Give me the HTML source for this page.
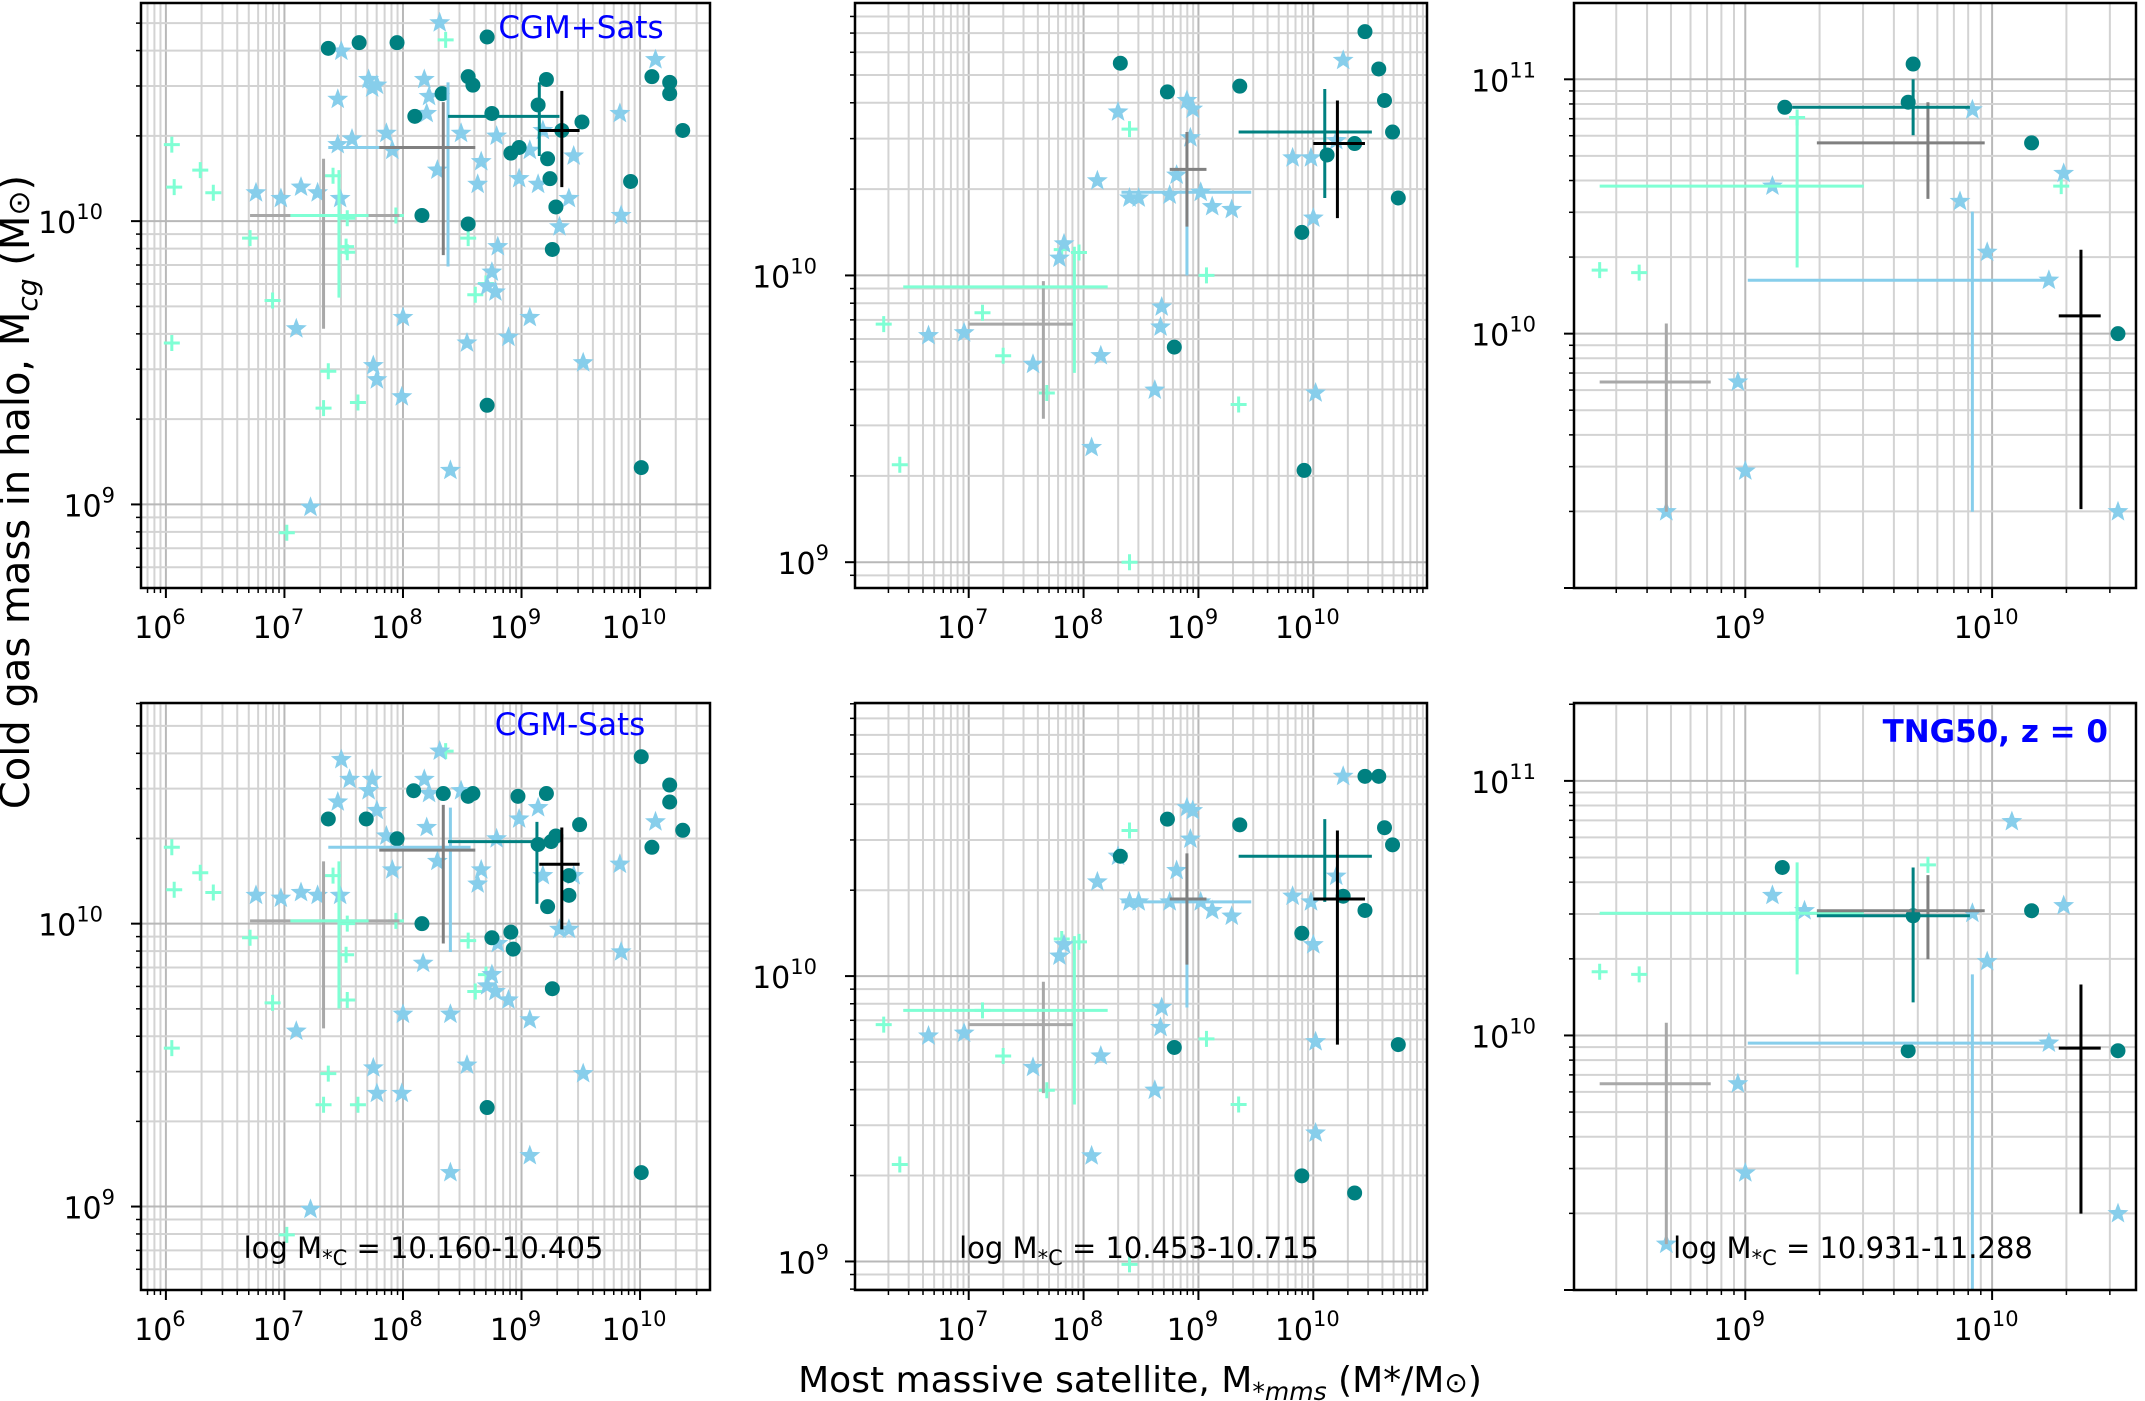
<!DOCTYPE html>
<html><head><meta charset="utf-8">
<style>
html,body{margin:0;padding:0;background:#fff;}
svg{display:block;font-family:"DejaVu Sans","Liberation Sans",sans-serif;}
</style></head>
<body>
<svg id="fig" width="2145" height="1401" viewBox="0 0 2145 1401" xmlns="http://www.w3.org/2000/svg">
<text transform="translate(29,492) rotate(-90)" text-anchor="middle" font-size="40">Cold gas mass in halo, M<tspan font-size="28" dy="8" font-style="italic">cg</tspan><tspan dy="-8"> (M</tspan><tspan font-size="30">⊙</tspan>)</text>
<text x="1140" y="1392" text-anchor="middle" font-size="36">Most massive satellite, M<tspan font-size="25" dy="8">*</tspan><tspan font-size="25" font-style="italic">mms</tspan><tspan dy="-8"> (M*/M</tspan><tspan font-size="28">⊙</tspan>)</text>
</svg>
<script>
// all values are log10 of masses
// panel 1 top (CGM+Sats)
const p1tCircles=[[7.37,10.61],[7.63,10.63],[7.95,10.63],[8.10,10.37],[8.33,10.45],[8.55,10.51],[8.59,10.48],[8.71,10.65],[8.75,10.38],[8.91,10.24],[8.98,10.26],[8.16,10.02],[8.55,9.99],[8.71,9.35],[9.14,10.41],[9.21,10.50],[9.24,10.15],[9.29,10.05],[9.22,10.22],[9.26,9.90],[9.34,10.32],[9.51,10.35],[9.92,10.14],[10.01,9.13],[10.10,10.51],[10.25,10.49],[10.25,10.45],[10.36,10.32]];
const p1tStars=[[6.76,10.10],[6.97,10.08],[7.14,10.12],[7.28,10.10],[7.47,10.08],[7.10,9.62],[7.22,8.99],[7.45,10.43],[7.48,10.60],[7.45,10.27],[7.57,10.29],[7.71,10.50],[7.74,10.47],[7.78,10.48],[7.86,10.31],[7.91,10.25],[7.75,9.49],[7.78,9.44],[7.99,9.38],[8.00,9.66],[8.18,10.50],[8.22,10.44],[8.31,10.70],[8.20,10.38],[8.29,10.18],[8.40,9.12],[8.49,10.31],[8.54,9.57],[8.63,10.13],[8.78,9.75],[8.66,10.21],[8.71,9.77],[8.79,10.30],[8.75,9.82],[8.80,9.91],[8.98,10.15],[8.89,9.59],[9.07,10.25],[9.07,9.66],[9.14,10.13],[9.18,10.32],[9.32,9.98],[9.40,10.08],[9.44,10.23],[9.52,9.50],[9.83,10.38],[9.84,10.02],[10.13,10.57]];
const p1tPlus=[[6.05,10.27],[6.07,10.12],[6.29,10.18],[6.40,10.10],[6.71,9.94],[6.90,9.72],[7.02,8.90],[7.33,9.34],[7.37,9.47],[7.41,10.16],[7.52,9.91],[7.53,10.01],[7.53,9.89],[7.62,9.36],[7.94,10.02],[8.36,10.64],[8.55,9.94],[8.61,9.74],[8.70,9.78],[6.05,9.57]];
// errorbars: [x, xlo, xhi, y, ylo, yhi]; order: gray, aquamarine, skyblue, darkgray, teal, black
const p1tErr=[[7.33,6.71,7.97,10.02,9.62,10.22],[7.46,7.05,7.71,10.02,9.73,10.18],[8.38,7.37,8.57,10.26,9.84,10.49],[8.34,7.80,8.61,10.26,9.88,10.42],[9.15,8.38,9.32,10.37,10.23,10.49],[9.34,9.15,9.49,10.32,10.12,10.46]];
// panel 1 bottom (CGM-Sats)
const p1bCircles=[[7.37,10.37],[7.69,10.37],[7.95,10.30],[8.09,10.47],[8.16,10.00],[8.34,10.46],[8.55,10.45],[8.59,10.46],[8.75,9.95],[8.91,9.97],[8.97,10.45],[8.71,9.35],[9.14,10.28],[9.21,10.46],[9.22,10.06],[9.25,10.29],[9.29,10.31],[9.40,10.17],[9.40,10.10],[9.49,10.35],[10.01,9.12],[10.01,10.59],[10.10,10.27],[10.25,10.49],[10.25,10.43],[10.36,10.33],[8.93,9.91],[9.26,9.77]];
const p1bStars=[[6.76,10.10],[6.97,10.09],[7.14,10.11],[7.28,10.10],[7.47,10.10],[7.10,9.62],[7.22,8.99],[7.45,10.43],[7.48,10.58],[7.55,10.51],[7.71,10.47],[7.74,10.51],[7.78,10.40],[7.86,10.31],[7.91,10.19],[7.75,9.49],[7.78,9.40],[7.99,9.40],[8.00,9.68],[8.18,10.51],[8.22,10.46],[8.31,10.61],[8.20,10.34],[8.29,10.22],[8.40,9.12],[8.49,10.47],[8.54,9.50],[8.63,10.14],[8.78,9.76],[8.66,10.19],[8.71,9.78],[8.79,10.30],[8.75,9.82],[8.80,9.93],[8.98,10.37],[8.89,9.73],[9.07,9.18],[9.07,9.66],[9.14,10.41],[9.18,10.17],[9.32,9.98],[9.40,9.98],[9.44,10.17],[9.52,9.47],[9.83,10.21],[9.84,9.90],[10.13,10.36],[8.40,9.68],[8.17,9.86]];
const p1bPlus=[[6.05,10.27],[6.07,10.12],[6.29,10.18],[6.40,10.11],[6.71,9.95],[6.90,9.72],[7.02,8.90],[7.33,9.36],[7.37,9.47],[7.41,10.17],[7.52,9.89],[7.53,10.00],[7.53,9.73],[7.62,9.36],[7.94,10.01],[8.36,10.61],[8.55,9.94],[8.61,9.76],[8.70,9.82],[6.05,9.56]];
const p1bErr=[[7.33,6.71,7.97,10.01,9.63,10.22],[7.46,7.05,7.71,10.01,9.70,10.22],[8.40,7.37,8.57,10.27,9.90,10.41],[8.34,7.80,8.61,10.26,9.93,10.42],[9.13,8.38,9.32,10.29,10.07,10.36],[9.34,9.15,9.49,10.21,9.98,10.34]];
// panel 2 top
const p2tCircles=[[8.32,10.74],[8.73,10.64],[9.36,10.66],[8.79,9.75],[9.90,10.15],[9.92,9.32],[10.12,10.42],[10.45,10.85],[10.57,10.72],[10.62,10.61],[10.69,10.50],[10.74,10.27],[10.36,10.46]];
const p2tStars=[[6.65,9.79],[6.96,9.80],[7.56,9.69],[7.79,10.06],[7.83,10.11],[8.15,9.72],[8.07,9.40],[8.12,10.33],[8.30,10.57],[8.40,10.27],[8.48,10.27],[8.62,9.60],[8.67,9.82],[8.68,9.89],[8.75,10.28],[8.81,10.35],[8.90,10.61],[8.95,10.58],[8.93,10.48],[9.02,10.29],[9.12,10.24],[9.29,10.23],[9.82,10.41],[9.98,10.41],[10.00,10.20],[10.02,9.59],[10.20,10.47],[10.26,10.75]];
const p2tPlus=[[6.26,9.83],[6.40,9.34],[7.12,9.87],[7.30,9.72],[7.68,9.59],[7.81,10.09],[7.96,10.08],[8.40,10.51],[8.40,9.00],[9.07,10.00],[9.35,9.55]];
const p2tErr=[[7.65,7.00,7.92,9.83,9.50,9.98],[7.92,6.43,8.21,9.96,9.66,10.10],[8.90,8.33,9.46,10.29,10.00,10.34],[8.90,8.75,9.07,10.37,10.17,10.50],[10.10,9.35,10.51,10.50,10.27,10.65],[10.21,10.00,10.45,10.46,10.20,10.61]];
// panel 2 bottom
const p2bCircles=[[8.32,10.42],[8.73,10.55],[9.36,10.53],[8.79,9.75],[9.90,10.15],[9.90,9.30],[10.26,10.28],[10.45,10.70],[10.57,10.70],[10.62,10.52],[10.69,10.46],[10.74,9.76],[10.45,10.23],[10.36,9.24]];
const p2bStars=[[6.65,9.79],[6.96,9.80],[7.56,9.68],[7.79,10.07],[7.83,10.11],[8.15,9.72],[8.07,9.37],[8.12,10.33],[8.30,10.42],[8.40,10.26],[8.48,10.26],[8.62,9.60],[8.67,9.82],[8.68,9.89],[8.75,10.26],[8.81,10.37],[8.90,10.59],[8.95,10.58],[8.93,10.48],[9.02,10.26],[9.12,10.23],[9.29,10.21],[9.82,10.28],[9.98,10.26],[10.00,10.11],[10.02,9.77],[10.20,10.35],[10.26,10.70],[10.02,9.45]];
const p2bPlus=[[6.26,9.83],[6.40,9.34],[7.12,9.88],[7.30,9.72],[7.68,9.60],[7.81,10.13],[7.96,10.12],[8.40,10.51],[8.40,8.99],[9.07,9.78],[9.35,9.55]];
const p2bErr=[[7.65,7.00,7.92,9.83,9.59,9.98],[7.92,6.43,8.21,9.88,9.55,10.14],[8.90,8.33,9.46,10.26,9.89,10.28],[8.90,8.75,9.07,10.27,10.04,10.43],[10.10,9.35,10.51,10.42,10.26,10.55],[10.21,10.00,10.45,10.27,9.76,10.51]];
// panel 3 top
const p3tCircles=[[9.16,10.89],[9.68,11.06],[9.66,10.91],[10.16,10.75],[10.51,10.00]];
const p3tStars=[[8.68,9.30],[8.97,9.81],[9.00,9.46],[9.11,10.58],[9.87,10.52],[9.92,10.88],[9.98,10.32],[10.23,10.21],[10.29,10.63],[10.51,9.30]];
const p3tPlus=[[8.41,10.25],[8.57,10.24],[9.21,10.85],[10.28,10.58]];
const p3tErr=[[8.68,8.41,8.86,9.81,9.30,10.04],[9.21,8.41,9.48,10.58,10.26,10.85],[9.92,9.01,10.23,10.21,9.30,10.48],[9.74,9.29,9.97,10.75,10.53,10.91],[9.68,9.19,9.91,10.89,10.78,11.00],[10.36,10.27,10.44,10.07,9.31,10.33]];
// panel 3 bottom
const p3bCircles=[[9.15,10.66],[9.68,10.47],[10.16,10.49],[9.66,9.94],[10.51,9.94]];
const p3bStars=[[8.68,9.18],[8.97,9.81],[9.00,9.46],[9.11,10.55],[9.92,10.48],[9.98,10.29],[10.08,10.84],[10.23,9.97],[10.29,10.51],[10.51,9.30],[9.24,10.49]];
const p3bPlus=[[8.41,10.25],[8.57,10.24],[9.21,10.48],[9.74,10.67]];
const p3bErr=[[8.68,8.41,8.86,9.81,9.18,10.05],[9.21,8.41,9.48,10.48,10.24,10.68],[9.92,9.01,10.23,9.97,9.00,10.24],[9.74,9.29,9.97,10.49,10.30,10.63],[9.68,9.29,9.91,10.47,10.13,10.66],[10.36,10.27,10.44,9.95,9.30,10.20]];
const xTicks1=[6,7,8,9,10], xTicks2=[7,8,9,10], xTicks3=[9,10];
const yTicks1=[9,10], yTicks2=[9,10], yTicks3=[10,11];
const annoTexts=["10.160-10.405","10.453-10.715","10.931-11.288"];

const errColors=['#a8a8a8','#7fffd4','#87ceeb','#808080','#008080','#000000'];
const NS='http://www.w3.org/2000/svg';
const svg=document.getElementById('fig');
function mk(tag,attrs,parent){const e=document.createElementNS(NS,tag);for(const k in attrs)e.setAttribute(k,attrs[k]);(parent||svg).appendChild(e);return e;}

const panels=[
 {n:'panel-1-top',x0:141,x1:710,y0:3,y1:588,xr:[5.79,10.59],yr:[8.705,10.77],xt:xTicks1,yt:yTicks1,c:p1tCircles,s:p1tStars,p:p1tPlus,e:p1tErr},
 {n:'panel-2-top',x0:855,x1:1427,y0:3,y1:588,xr:[6.01,10.99],yr:[8.91,10.95],xt:xTicks2,yt:yTicks2,c:p2tCircles,s:p2tStars,p:p2tPlus,e:p2tErr},
 {n:'panel-3-top',x0:1574,x1:2136,y0:3,y1:588,xr:[8.306,10.583],yr:[9.0,11.30],xt:xTicks3,yt:yTicks3,c:p3tCircles,s:p3tStars,p:p3tPlus,e:p3tErr},
 {n:'panel-1-bottom',x0:141,x1:710,y0:703,y1:1290,xr:[5.79,10.59],yr:[8.705,10.78],xt:xTicks1,yt:yTicks1,c:p1bCircles,s:p1bStars,p:p1bPlus,e:p1bErr,a:0},
 {n:'panel-2-bottom',x0:855,x1:1427,y0:703,y1:1290,xr:[6.01,10.99],yr:[8.90,10.957],xt:xTicks2,yt:yTicks2,c:p2bCircles,s:p2bStars,p:p2bPlus,e:p2bErr,a:1},
 {n:'panel-3-bottom',x0:1574,x1:2136,y0:703,y1:1290,xr:[8.306,10.583],yr:[9.0,11.306],xt:xTicks3,yt:yTicks3,c:p3bCircles,s:p3bStars,p:p3bPlus,e:p3bErr,a:2}
];
function starPath(cx,cy,R){const r=R*0.42;let d='';for(let i=0;i<10;i++){const a=-Math.PI/2+i*Math.PI/5;const rr=i%2?r:R;d+=(i?'L':'M')+(cx+rr*Math.cos(a)).toFixed(1)+' '+(cy+rr*Math.sin(a)).toFixed(1);}return d+'Z';}
function minors(lo,hi){const out=[];for(let n=Math.floor(lo);n<=Math.ceil(hi);n++){for(let k=1;k<=9;k++){const v=n+Math.log10(k);if(v>=lo&&v<=hi)out.push({v:v,major:k===1});}}return out;}

panels.forEach(P=>{
 const g=mk('g',{});
 
 
 const X=v=>P.x0+(v-P.xr[0])/(P.xr[1]-P.xr[0])*(P.x1-P.x0);
 const Y=v=>P.y1-(v-P.yr[0])/(P.yr[1]-P.yr[0])*(P.y1-P.y0);
 const cp='clip-'+P.n;
 const cl=mk('clipPath',{id:cp},g);mk('rect',{x:P.x0,y:P.y0,width:P.x1-P.x0,height:P.y1-P.y0},cl);
 const gg=mk('g',{},g);
 const xm=minors(P.xr[0],P.xr[1]), ym=minors(P.yr[0],P.yr[1]);
 xm.forEach(t=>{const x=X(t.v);mk('line',{x1:x,x2:x,y1:P.y0,y2:P.y1,stroke:t.major?'#b8b8b8':'#d3d3d3','stroke-width':2},gg);
   mk('line',{x1:x,x2:x,y1:P.y1,y2:P.y1+(t.major?10:5),stroke:'#000','stroke-width':t.major?2:1.5},g);});
 ym.forEach(t=>{const y=Y(t.v);mk('line',{x1:P.x0,x2:P.x1,y1:y,y2:y,stroke:t.major?'#b8b8b8':'#d3d3d3','stroke-width':2},gg);
   mk('line',{x1:P.x0,x2:P.x0-(t.major?10:5),y1:y,y2:y,stroke:'#000','stroke-width':t.major?2:1.5},g);});
 const pg=mk('g',{'clip-path':'url(#'+cp+')'},g);
 P.p.forEach(d=>{const x=X(d[0]),y=Y(d[1]);const e=mk('path',{d:`M${x-8} ${y}H${x+8}M${x} ${y-8}V${y+8}`,stroke:'#7fffd4','stroke-width':3},pg);
   
   });
 P.s.forEach(d=>{const e=mk('path',{d:starPath(X(d[0]),Y(d[1]),11),fill:'#87ceeb'},pg);
   
   });
 P.c.forEach(d=>{const e=mk('circle',{cx:X(d[0]),cy:Y(d[1]),r:7.5,fill:'#008080'},pg);
   
   });
 P.e.forEach((d,i)=>{const x=X(d[0]),y=Y(d[3]);
   const e=mk('path',{d:`M${X(d[1])} ${y}H${X(d[2])}M${x} ${Y(d[4])}V${Y(d[5])}`,stroke:errColors[i],'stroke-width':3,fill:'none'},pg);
   
   });
 mk('rect',{x:P.x0,y:P.y0,width:P.x1-P.x0,height:P.y1-P.y0,fill:'none',stroke:'#000','stroke-width':2.5},g);
 P.xt.forEach(v=>{const t=mk('text',{x:X(v)-6,y:P.y1+50,'text-anchor':'middle','font-size':30},g);
   
   
   t.textContent='10';const s=mk('tspan',{dy:-14,'font-size':21},t);s.textContent=String(v);});
 P.yt.forEach(v=>{const t=mk('text',{x:P.x0-40,y:Y(v)+12,'text-anchor':'end','font-size':30},g);
   
   
   t.textContent='10';const s=mk('tspan',{dy:-14,'font-size':21},t);s.textContent=String(v);
   t.setAttribute('x',P.x0-14-(String(v).length*12));});
 if(P.a!==undefined){const t=mk('text',{x:(P.x0+P.x1)/2-2,y:1258,'text-anchor':'middle','font-size':29},g);
   
   
   t.textContent='log M';const s1=mk('tspan',{'font-size':21,dy:7},t);s1.textContent='*C';const s2=mk('tspan',{dy:-7},t);s2.textContent=' = '+annoTexts[P.a];}
});
const l1=mk('text',{x:581,y:38,'text-anchor':'middle','font-size':31,fill:'#0000ff'});


l1.textContent='CGM+Sats';
const l2=mk('text',{x:570,y:735,'text-anchor':'middle','font-size':31,fill:'#0000ff'});


l2.textContent='CGM-Sats';
const l3=mk('text',{x:2108,y:742,'text-anchor':'end','font-size':31,'font-weight':'bold',fill:'#0000ff'});


l3.textContent='TNG50, z = 0';
</script>
</body></html>
